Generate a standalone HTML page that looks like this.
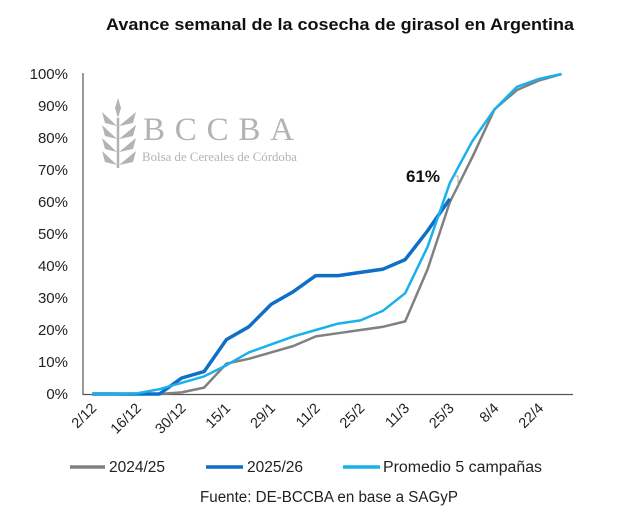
<!DOCTYPE html>
<html><head><meta charset="utf-8"><style>
body{margin:0;background:#fff;}
svg{display:block;font-family:"Liberation Sans",Arial,sans-serif;}
</style></head><body>
<svg id="s" width="640" height="517" xmlns="http://www.w3.org/2000/svg">
<rect width="640" height="517" fill="#fff"/>
<text x="340" y="30" text-anchor="middle" font-size="17" font-weight="bold" fill="#111" textLength="468" lengthAdjust="spacingAndGlyphs">Avance semanal de la cosecha de girasol en Argentina</text>
<g font-size="15" fill="#222" text-anchor="end">
<text x="68" y="79">100%</text><text x="68" y="111">90%</text><text x="68" y="143">80%</text><text x="68" y="175">70%</text><text x="68" y="207">60%</text><text x="68" y="239">50%</text><text x="68" y="271">40%</text><text x="68" y="303">30%</text><text x="68" y="335">20%</text><text x="68" y="367">10%</text><text x="68" y="399">0%</text>
</g>
<line x1="83" y1="73" x2="83" y2="395" stroke="#555" stroke-width="1.2"/>
<line x1="83" y1="394.5" x2="573" y2="394.5" stroke="#555" stroke-width="1.2"/>
<g fill="#b3b3b3">
<path d="M118 98 L121 108 L118 118 L115 108Z"/>
<path d="M118 168 L118 118" stroke="#b3b3b3" stroke-width="2.5"/>
<path d="M119 126 L136 112 L133 123Z"/><path d="M117 126 L102 112 L105 123Z"/>
<path d="M119 139 L136 125 L133 136Z"/><path d="M117 139 L102 125 L105 136Z"/>
<path d="M119 152 L136 138 L133 149Z"/><path d="M117 152 L102 138 L105 149Z"/>
<path d="M119 165 L136 151 L133 162Z"/><path d="M117 165 L102 151 L105 162Z"/>
</g>
<text x="143" y="140" font-family="Liberation Serif,serif" font-size="33" fill="#b3b3b3" textLength="151" lengthAdjust="spacing">BCCBA</text>
<text x="142" y="161" font-family="Liberation Serif,serif" font-size="13" fill="#b3b3b3" textLength="155" lengthAdjust="spacingAndGlyphs">Bolsa de Cereales de Córdoba</text>
<g id="series"></g>
<text x="406" y="182" font-size="17" font-weight="bold" fill="#111">61%</text>
<polyline points="452,176 458,176 458,186" fill="none" stroke="#999" stroke-width="0.8"/>
<g font-size="14.5" fill="#222" id="xl"></g>
<g font-size="15.5" fill="#222">
<line x1="70" y1="467" x2="105" y2="467" stroke="#808080" stroke-width="3.5"/>
<text x="109" y="472">2024/25</text>
<line x1="206" y1="467" x2="243" y2="467" stroke="#0f6fc6" stroke-width="3.5"/>
<text x="247" y="472">2025/26</text>
<line x1="343" y1="467" x2="380" y2="467" stroke="#1ab0ec" stroke-width="3.5"/>
<text x="383" y="472" textLength="159" lengthAdjust="spacingAndGlyphs">Promedio 5 campañas</text>
<text x="329" y="502" text-anchor="middle" textLength="258" lengthAdjust="spacingAndGlyphs">Fuente: DE-BCCBA en base a SAGyP</text>
</g>
</svg>
<script>
var X=function(i){return 92.3+i*22.35},Y=function(v){return 394-3.2*v};
var g=[0,0,0,0,0.5,2,9.5,11,13,15,18,19,20,21,22.7,39,60,74,89,95,98,100];
var d=[0,0,0,0,5,7,17,21,28,32,37,37,38,39,42,51,61];
var l=[0,0,0.2,1.5,3.5,5.5,9,13,15.5,18,20,22,23,26,31.5,46,66,79,89,96,98.5,100];
function pl(a,c,w){var p=a.map(function(v,i){return X(i).toFixed(1)+","+Y(v).toFixed(1)}).join(" ");
return '<polyline points="'+p+'" fill="none" stroke="'+c+'" stroke-width="'+w+'" stroke-linejoin="round"/>';}
document.getElementById("series").innerHTML=pl(g,"#808080",2.5)+pl(d,"#0f6fc6",3.5)+pl(l,"#1ab0ec",2.5);
var labs=["2/12","16/12","30/12","15/1","29/1","11/2","25/2","11/3","25/3","8/4","22/4"],h="";
labs.forEach(function(t,k){var x=X(2*k)+5,y=409;h+='<text x="'+x+'" y="'+y+'" text-anchor="end" transform="rotate(-45 '+x+' '+y+')">'+t+'</text>';});
document.getElementById("xl").innerHTML=h;
</script>
</body></html>
